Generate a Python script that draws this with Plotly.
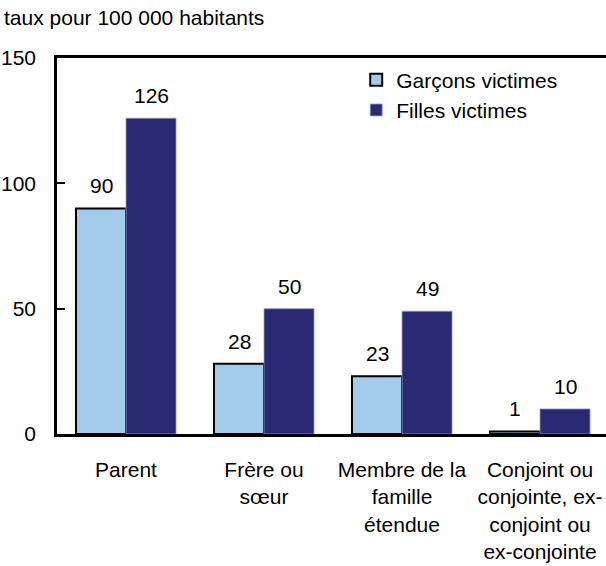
import plotly.graph_objects as go

categories = ["Parent", "Frère ou<br>sœur", "Membre de la<br>famille<br>étendue",
              "Conjoint ou<br>conjointe, ex-<br>conjoint ou<br>ex-conjointe"]
garcons = [90, 28, 23, 1]
filles = [126, 50, 49, 10]
y_ticks = [0, 50, 100, 150]

FONT = "Liberation Sans, Arial, sans-serif"
FS = 21

fig = go.Figure()
fig.add_trace(go.Bar(
    x=categories, y=garcons, name="Garçons victimes",
    marker=dict(color="#a3cbea", line=dict(color="black", width=2)),
))
fig.add_trace(go.Bar(
    x=categories, y=filles, name="Filles victimes",
    marker=dict(color="#2a2a72", line=dict(color="#9a9acc", width=0.8)),
))

annotations = [dict(text="taux pour 100 000 habitants", xref="paper", yref="paper",
                    x=-55/549, y=(434-17)/376, xanchor="left", yanchor="middle",
                    showarrow=False, font=dict(size=FS))]
for series, shift in ((garcons, -25), (filles, 25)):
    for cat, v in zip(categories, series):
        annotations.append(dict(text=str(v), x=cat, y=v, xref="x", yref="y",
                                xshift=shift, yshift=9, yanchor="bottom",
                                showarrow=False, font=dict(size=FS)))

fig.update_layout(
    width=606, height=566,
    margin=dict(l=57, r=0, t=58, b=132),
    paper_bgcolor="white", plot_bgcolor="white",
    font=dict(family=FONT, size=FS, color="black"),
    barmode="group", bargap=0.275, bargroupgap=0,
    showlegend=True,
    legend=dict(x=0.545, y=0.996, xanchor="left", yanchor="top",
                font=dict(size=FS), bgcolor="rgba(0,0,0,0)",
                itemwidth=30, tracegroupgap=0),
    annotations=annotations,
)
fig.update_xaxes(
    range=[-0.5, -0.5 + 549/138], showline=True, linecolor="black", linewidth=2.5,
    mirror=True, ticks="", showgrid=False, tickfont=dict(size=FS),
    ticklabelstandoff=15, automargin=False,
)
fig.update_yaxes(
    range=[0, 150], tickvals=y_ticks, showline=True, linecolor="black", linewidth=2.5,
    ticks="inside", ticklen=8, tickwidth=1.5, tickcolor="black",
    showgrid=False, zeroline=False, tickfont=dict(size=FS), ticklabelstandoff=14,
    automargin=False,
)

fig.write_html("out.html", config={"displayModeBar": False},
               post_script="document.body.style.margin='0';document.body.style.overflow='hidden';")
